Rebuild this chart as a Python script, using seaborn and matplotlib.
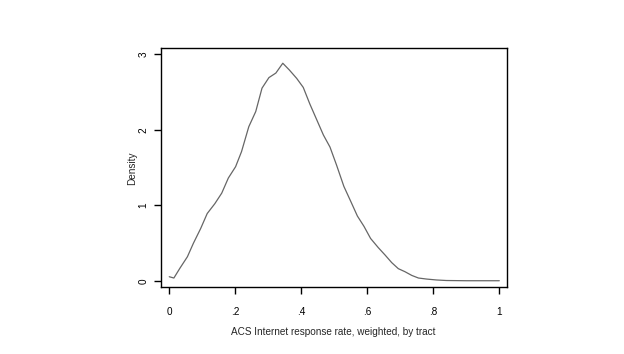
import matplotlib
matplotlib.use('Agg')
import matplotlib.pyplot as plt
import seaborn as sns
import pandas as pd

# Density curve values
rate = [0.0, 0.014, 0.032, 0.055, 0.073, 0.095, 0.115, 0.138, 0.159, 0.179,
        0.201, 0.219, 0.241, 0.262, 0.281, 0.302, 0.323, 0.344, 0.364, 0.386,
        0.406, 0.426, 0.447, 0.467, 0.487, 0.507, 0.529, 0.55, 0.570, 0.590,
        0.610, 0.633, 0.654, 0.674, 0.694, 0.714, 0.735, 0.755, 0.78, 0.81,
        0.84, 0.90, 0.95, 1.0]
density = [0.053, 0.036, 0.164, 0.318, 0.495, 0.69, 0.89, 1.02, 1.16, 1.36,
           1.51, 1.71, 2.04, 2.24, 2.55, 2.69, 2.75, 2.88, 2.79, 2.68,
           2.56, 2.34, 2.13, 1.93, 1.77, 1.53, 1.25, 1.05, 0.857, 0.72,
           0.56, 0.44, 0.34, 0.24, 0.16, 0.12, 0.07, 0.036, 0.022, 0.01,
           0.003, 0.0, 0.0, 0.0]

x_ticks = [0, 0.2, 0.4, 0.6, 0.8, 1.0]
x_labels = ['0', '.2', '.4', '.6', '.8', '1']
y_ticks = [0, 1, 2, 3]
y_labels = ['0', '1', '2', '3']

df = pd.DataFrame({'rate': rate, 'density': density})

sns.set_style('white')
plt.rcParams['font.family'] = ['Liberation Sans', 'DejaVu Sans']

fig = plt.figure(figsize=(6.24, 3.54), dpi=100)
ax = fig.add_axes([0.2575, 0.1884, 0.5545, 0.6752])

sns.lineplot(data=df, x='rate', y='density', ax=ax, color='#666666', linewidth=0.9, sort=False)

ax.set_xlim(-0.026, 1.0224)
ax.set_ylim(-0.087, 3.078)
ax.set_xticks(x_ticks)
ax.set_xticklabels(x_labels)
ax.set_yticks(y_ticks)
ax.set_yticklabels(y_labels, rotation=90, va='center')

ax.tick_params(axis='x', direction='out', length=5, width=1, pad=9.5, labelsize=7.2, colors='black', bottom=True)
ax.tick_params(axis='y', direction='out', length=5, width=1, pad=4, labelsize=7.2, colors='black', left=True)

for s in ax.spines.values():
    s.set_visible(True)
    s.set_color('black')
    s.set_linewidth(1.0)

ax.set_xlabel('ACS Internet response rate, weighted, by tract', fontsize=7.2, labelpad=7)
ax.set_ylabel('Density', fontsize=7.2, labelpad=0.5)

fig.savefig('out.png', dpi=100, facecolor='white')
